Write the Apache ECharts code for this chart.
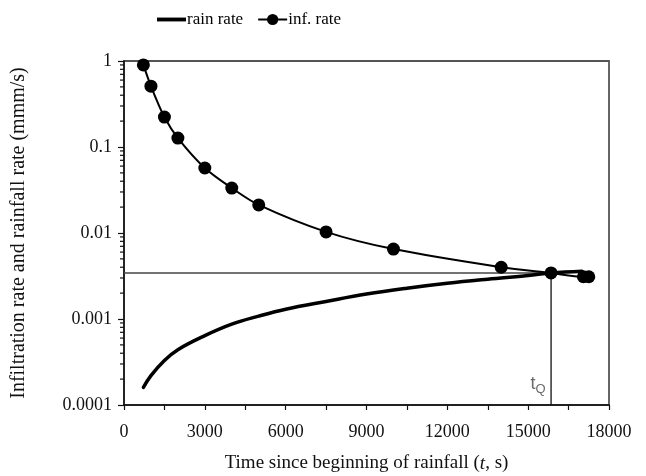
<!DOCTYPE html>
<html>
<head>
<meta charset="utf-8">
<script src="https://cdn.jsdelivr.net/npm/echarts@6/dist/echarts.min.js"></script>
<style>
  html, body { margin: 0; padding: 0; background: #fff; }
  #chart { width: 646px; height: 476px; }
</style>
</head>
<body>
<div id="chart"></div>
<script>
// Rainfall rate rising through the event (s, mm/s)
const rainTime = [720, 1000, 1500, 2000, 3000, 4000, 5000, 6000, 7500, 9000, 10500, 12000, 13500, 15000, 15850, 17000];
const rainRate = [0.00016, 0.00022, 0.00033, 0.00044, 0.00064, 0.00087, 0.00108, 0.0013, 0.0016, 0.00195, 0.00228, 0.0026, 0.0029, 0.0032, 0.00343, 0.0036];

// Measured infiltration rate (s, mm/s)
const infTime = [720, 1000, 1500, 2000, 3000, 4000, 5000, 7500, 10000, 14000, 15850, 17050, 17250];
const infRate = [0.9, 0.51, 0.223, 0.127, 0.057, 0.0333, 0.0212, 0.0103, 0.0065, 0.004, 0.00343, 0.0031, 0.0031];

// Time at which rainfall rate meets infiltration rate
const tQ = 15850;
const qRate = 0.00343;

const xTicks = [0, 3000, 6000, 9000, 12000, 15000, 18000];
const yTicks = [0.0001, 0.001, 0.01, 0.1, 1];

// Log-axis minor tick values (2..9 within each decade)
const minorY = [];
for (let d = 0; d < yTicks.length - 1; d++) {
  for (let k = 2; k <= 9; k++) minorY.push(+(yTicks[d] * k).toPrecision(3));
}

const serif = '"Liberation Serif", "DejaVu Serif", serif';

const chart = echarts.init(document.getElementById('chart'), null, { renderer: 'canvas' });

chart.setOption({
  animation: false,
  backgroundColor: '#fff',
  textStyle: { fontFamily: serif },
  legend: {
    data: [
      { name: 'rain rate', icon: 'path://M0,0h30v4h-30z' },
      { name: 'inf. rate' }
    ],
    top: 6,
    left: 152,
    itemWidth: 29,
    itemHeight: 14,
    itemGap: 14,
    textStyle: { fontFamily: serif, fontSize: 17, color: '#000', padding: [0, 0, 0, -4] }
  },
  grid: {
    left: 124, right: 37, top: 61, bottom: 71,
    containLabel: false,
    outerBoundsMode: 'none',
    show: true, borderColor: '#555', borderWidth: 1.8, backgroundColor: 'transparent'
  },
  xAxis: {
    type: 'value',
    min: 0, max: 18000, interval: 1500,
    name: '{a|Time since beginning of rainfall (}{i|t}{a|, s)}',
    nameLocation: 'middle',
    nameGap: 49,
    nameTextStyle: {
      rich: {
        a: { fontFamily: serif, fontSize: 19, color: '#111' },
        i: { fontFamily: serif, fontSize: 19, color: '#111', fontStyle: 'italic' }
      }
    },
    axisLine: { lineStyle: { color: '#111', width: 1.5 } },
    axisTick: { show: true, inside: false, length: 5, lineStyle: { color: '#111', width: 1.2 } },
    splitLine: { show: false },
    axisLabel: {
      fontFamily: serif, fontSize: 18, color: '#111', margin: 18,
      formatter: v => (xTicks.indexOf(v) >= 0 ? String(v) : '')
    }
  },
  yAxis: {
    type: 'log',
    logBase: 10,
    min: 0.0001, max: 1,
    name: 'Infiltration rate and rainfall rate (mmm/s)',
    nameLocation: 'middle',
    nameGap: 95,
    nameTextStyle: { fontFamily: serif, fontSize: 20, color: '#111' },
    axisLine: { lineStyle: { color: '#111', width: 1.5 } },
    axisTick: { show: true, inside: false, length: 6, lineStyle: { color: '#111', width: 1.2 } },
    splitLine: { show: false },
    axisLabel: {
      fontFamily: serif, fontSize: 18, color: '#111', margin: 12,
      formatter: v => {
        const m = yTicks.find(t => Math.abs(t - v) / t < 1e-6);
        return m !== undefined ? String(m) : '';
      }
    }
  },
  series: [
    {
      // minor ticks along the log axis
      type: 'custom',
      silent: true,
      z: 1,
      data: minorY.map(v => [0, v]),
      encode: { x: 0, y: 1 },
      clip: false,
      renderItem: (params, api) => {
        const p = api.coord([0, api.value(1)]);
        return {
          type: 'line',
          shape: { x1: p[0] - 4, y1: p[1], x2: p[0], y2: p[1] },
          style: { stroke: '#111', lineWidth: 1.2 }
        };
      }
    },
    {
      name: 'guide-h',
      type: 'line',
      silent: true,
      symbol: 'none',
      data: [[0, qRate], [tQ, qRate]],
      lineStyle: { color: '#444', width: 1.6 },
      z: 2
    },
    {
      name: 'guide-v',
      type: 'line',
      silent: true,
      symbol: 'none',
      data: [[tQ, qRate], [tQ, 0.0001]],
      lineStyle: { color: '#111', width: 1.3 },
      z: 2
    },
    {
      name: 'tQ',
      type: 'scatter',
      silent: true,
      symbolSize: 1,
      itemStyle: { color: 'rgba(0,0,0,0)' },
      data: [[tQ, 0.0001]],
      label: {
        show: true,
        position: [-20, -32],
        formatter: '{t|t}{q|Q}',
        rich: {
          t: { fontFamily: '"Liberation Sans", Arial, sans-serif', fontSize: 18, color: '#444' },
          q: { fontFamily: '"Liberation Sans", Arial, sans-serif', fontSize: 13, color: '#444', padding: [10, 0, 0, 0] }
        }
      },
      z: 3
    },
    {
      name: 'rain rate',
      type: 'line',
      smooth: 0.4,
      symbol: 'none',
      data: rainTime.map((t, i) => [t, rainRate[i]]),
      lineStyle: { color: '#000', width: 3.5, cap: 'round' },
      itemStyle: { color: '#000' },
      z: 4
    },
    {
      name: 'inf. rate',
      type: 'line',
      smooth: 0.3,
      symbol: 'circle',
      symbolSize: 13,
      data: infTime.map((t, i) => [t, infRate[i]]),
      lineStyle: { color: '#000', width: 2 },
      itemStyle: { color: '#000' },
      z: 5
    }
  ]
});
</script>
</body>
</html>
